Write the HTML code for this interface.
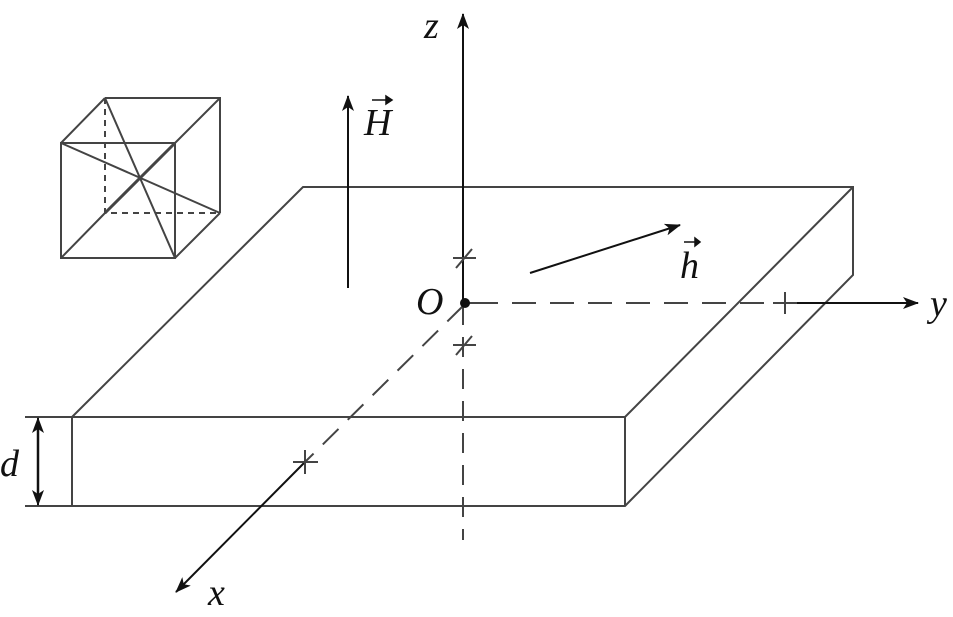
<!DOCTYPE html>
<html><head><style>body{margin:0;background:#fff}svg{display:block}</style></head><body>
<svg width="953" height="617" viewBox="0 0 953 617" xmlns="http://www.w3.org/2000/svg">
<defs>
<marker id="b" markerWidth="16" markerHeight="12" refX="15" refY="6" orient="auto" markerUnits="userSpaceOnUse" viewBox="0 0 16 12"><path d="M0,0 L16,6 L0,12 L4,6 Z" fill="#111"/></marker>
</defs>
<g stroke="#444" stroke-width="2" fill="none">
<path d="M72,417 L303,187 L853,187 L853,275 L625,506 L72,506 Z"/>
<path d="M72,417 L625,417 L853,187 M625,417 L625,506"/>
<path d="M61,143 H175 V258 H61 Z M105,98 H220 V213 M61,143 L105,98 M175,143 L220,98 M175,258 L220,213 M61,258 L105,213 M61,143 L220,213 M105,98 L175,258"/>
<path d="M105,98 V213 H220" stroke-dasharray="6,5"/>
<path d="M175,143 L105,213" stroke-width="3"/>
<path d="M25,417 H72 M25,506 H72"/>
</g>
<g stroke="#111" stroke-width="2" fill="none">
<path d="M463,300 V14" marker-end="url(#b)"/>
<path d="M463,305 V540" stroke="#444" stroke-dasharray="20,12"/>
<path d="M465,303 H498" stroke="#444"/>
<path d="M512,303 H790" stroke="#444" stroke-dasharray="24,14"/>
<path d="M785,303 H918" marker-end="url(#b)"/>
<path d="M463,306 L305,462" stroke="#444" stroke-dasharray="22,13"/>
<path d="M305,462 L176,592" marker-end="url(#b)"/>
<path d="M453,258 H476 M456,268 L472,249 M453,345 H476 M456,355 L472,336 M773,303 L797,303 M785,292 V314 M293,462 H318 M305,450 V474" stroke="#444"/>
<path d="M348,288 V96" marker-end="url(#b)"/>
<path d="M530,273 L680,225" marker-end="url(#b)"/>
<path d="M38,430 V493" stroke-width="2.5"/>
<path d="M38,493 V505" marker-end="url(#b)"/>
<path d="M38,430 V418" marker-end="url(#b)"/>
</g>
<circle cx="465" cy="303" r="5" fill="#111"/>
<g font-family="Liberation Serif, serif" font-style="italic" font-size="38" fill="#111">
<text x="424" y="38">z</text>
<text x="364" y="135">H</text>
<text x="680" y="278">h</text>
<text x="416" y="314">O</text>
<text x="930" y="316">y</text>
<text x="208" y="605">x</text>
<text x="0" y="476">d</text>
</g>
<g stroke="#111" stroke-width="1.5" fill="#111">
<path d="M372,100 H392"/><path d="M392,100 L386,96 L386,104 Z"/>
<path d="M684,242 H700"/><path d="M700,242 L695,238 L695,246 Z"/>
</g>
</svg>
</body></html>
